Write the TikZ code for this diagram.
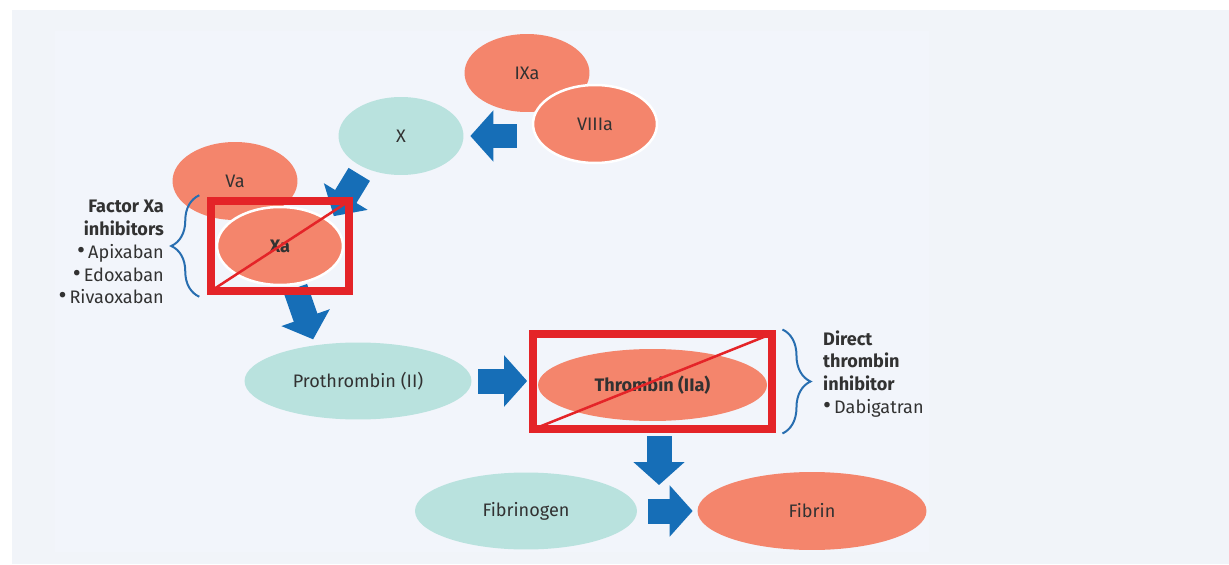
\documentclass[tikz,border=0pt]{standalone}
\usepackage{fontspec}
\setmainfont{Fira Sans}
\usepackage{tikz}
\usetikzlibrary{arrows.meta,positioning,shapes.geometric,calc,fit,decorations.pathreplacing}
\definecolor{enzfill}{RGB}{244,133,108}
\definecolor{zymfill}{RGB}{185,226,222}
\definecolor{arrblue}{RGB}{22,110,183}
\definecolor{boxred}{RGB}{228,36,40}
\definecolor{braceblue}{RGB}{40,110,176}
\definecolor{inktext}{RGB}{50,50,50}
\definecolor{panelout}{RGB}{241,244,249}
\definecolor{panelin}{RGB}{242,245,251}
\newcommand{\bul}{{\fontsize{14}{13}\selectfont\textbullet}\,}

\begin{document}
\begin{tikzpicture}[x=0.02cm,y=-0.02cm,font=\fontsize{10.3}{13}\selectfont,text=inktext,
   enz/.style={ellipse,fill=enzfill,inner sep=0pt,minimum width=2.5cm,minimum height=1.56cm},
   zym/.style={ellipse,fill=zymfill,inner sep=0pt,minimum width=2.5cm,minimum height=1.56cm},
   sep/.style={draw=white,line width=0.05cm},
   blk/.style={draw=arrblue,line width=0.5cm,-{Triangle[length=0.46cm,width=1.0cm]}},
   xbox/.style={draw=boxred,line width=0.16cm,inner sep=0pt,outer sep=0pt},
   cross/.style={draw=boxred,line width=0.05cm},
   brc/.style={draw=braceblue,line width=0.04cm,decorate,decoration={brace,amplitude=0.56cm}}]
  \useasboundingbox (0,0) rectangle (1229,564);
  \fill[white] (0,0) rectangle (1229,564);
  \fill[panelout] (12,10) rectangle (1229,564);
  \fill[panelin] (55,31) rectangle (929,552);

  \node[enz] (ixa) at (527,73) {IXa};
  \node[enz,sep,minimum width=2.48cm] (viiia) at (595,124) {VIIIa};
  \node[zym] (x) at (401,136) {X};
  \node[enz] (va) at (235,181) {Va};
  \node[enz,sep,minimum width=2.52cm] (xa) at (280,246) {\textbf{Xa}};
  \node[zym,minimum width=4.54cm,minimum height=1.54cm] (proth) at (358,381) {Prothrombin (II)};
  \node[enz,minimum width=4.58cm,minimum height=1.44cm] (thr) at (652.5,385) {\textbf{Thrombin (IIa)}};
  \node[zym,minimum width=4.44cm,minimum height=1.54cm] (fgen) at (526,511) {Fibrinogen};
  \node[enz,minimum width=4.58cm,minimum height=1.56cm] (fib) at (812,511) {Fibrin};
  \coordinate (gap) at (659,511);

  \draw[blk,shorten <=0.3cm,shorten >=0.13cm] (x.east -| viiia.west) -- (x.east);
  \draw[blk,shorten <=0.16cm,shorten >=0.12cm] (x.220) -- (xa.26);
  \draw[blk,shorten <=0.06cm,shorten >=0.12cm] (xa.290) -- (proth.140);
  \draw[blk,shorten <=0.13cm,shorten >=0.21cm] (proth.east) -- (proth.east -| thr.west);
  \draw[blk,shorten <=0.3cm,shorten >=0.52cm] (thr.south -| gap) -- (gap);
  \draw[blk,shorten <=0.21cm,shorten >=0.09cm] (fgen.east) -- (fib.west);

  \node[xbox,fit=(xa),inner sep=0.09cm] (xabox) {};
  \draw[cross] (xabox.south west) -- (xabox.north east);
  \node[xbox,minimum width=4.8cm,minimum height=1.92cm] (thrbox) at ([yshift=0.07cm]thr) {};
  \draw[cross] (thrbox.south west) -- (thrbox.north east);

  \draw[brc] ([shift={(-12,6)}]xabox.south west) -- ([shift={(-12,-6)}]xabox.north west);
  \draw[brc] ([shift={(10,-4)}]thrbox.north east) -- ([shift={(10,4)}]thrbox.south east);
  \node[anchor=east,align=right] (fxai) at (170,252)
       {\textbf{Factor Xa}\\\textbf{inhibitors}\\\bul Apixaban\\\bul Edoxaban\\\bul Rivaoxaban};
  \node[anchor=west,align=left] (dti) at (817,374)
       {\textbf{Direct}\\\textbf{thrombin}\\\textbf{inhibitor}\\\bul Dabigatran};
\end{tikzpicture}
\end{document}
